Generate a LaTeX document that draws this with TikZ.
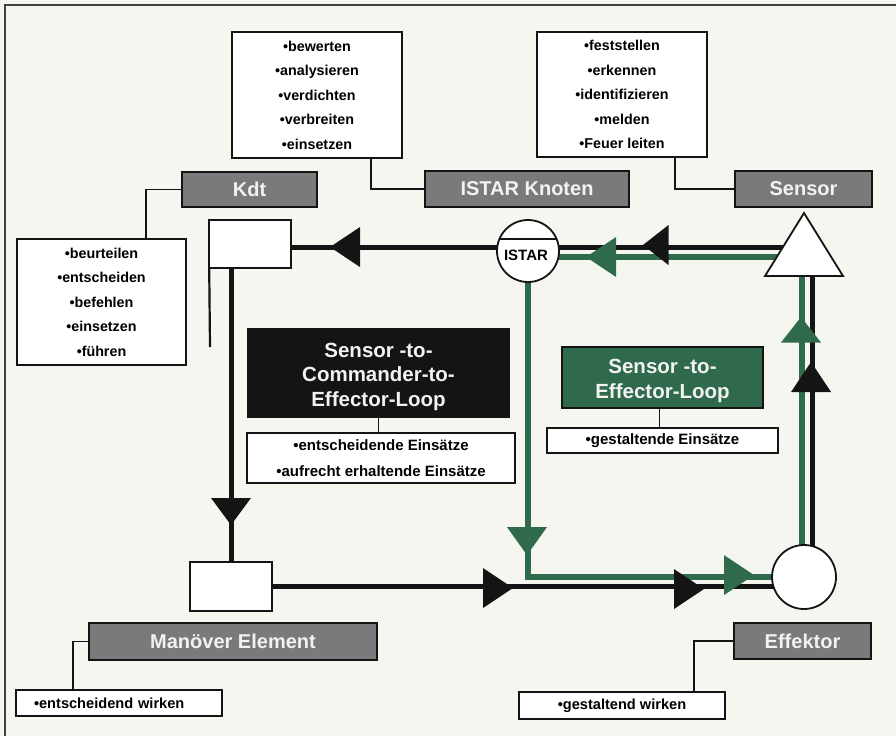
\documentclass[tikz,border=0pt]{standalone}
\usepackage{fontspec}
\setmainfont{Liberation Sans}
\usetikzlibrary{backgrounds}
\definecolor{paper}{HTML}{F6F6F1}
\definecolor{grayb}{HTML}{7A7A7A}
\definecolor{greenb}{HTML}{2F6A4C}
\definecolor{ink}{HTML}{141414}
\definecolor{labeltext}{HTML}{F2F2F2}
\begin{document}
\begin{tikzpicture}[x=1pt,y=-1pt,
  listbox/.style={draw=ink, line width=1.6pt, fill=white, inner sep=0pt, align=center,
    font=\bfseries\fontsize{14.3}{24.5}\selectfont},
  smallbox/.style={draw=ink, line width=1.6pt, fill=white, inner sep=0pt, align=center,
    font=\bfseries\fontsize{15}{26}\selectfont},
  graylabel/.style={draw=ink, line width=1.6pt, fill=grayb, text=labeltext, inner sep=0pt,
    font=\bfseries\fontsize{20}{24}\selectfont},
  loopbox/.style={draw=ink, line width=1.4pt, inner sep=0pt},
  looptext/.style={text=labeltext, inner sep=0pt, align=center,
    font=\bfseries\fontsize{20.5}{24.5}\selectfont},
  square/.style={draw=ink, line width=1.6pt, fill=white, inner sep=0pt},
  ring/.style={circle, draw=ink, line width=1.8pt, fill=white, inner sep=0pt},
  thinline/.style={draw=ink, line width=1.9pt},
  blackloop/.style={draw=ink, line width=5pt},
  greenloop/.style={draw=greenb, line width=5.5pt},
  arrowtip/.pic={\path[pic actions] (0,0) -- (-30,-20) -- (-30,20) -- cycle;}
]
\useasboundingbox (0,0) rectangle (896,736);
\begin{pgfonlayer}{background}
\fill[paper] (0,0) rectangle (896,736);
\end{pgfonlayer}
\draw[ink!80, line width=1.4pt] (5,736) -- (5,5) -- (896,5);

% lists
\node[listbox, minimum width=170pt, minimum height=126pt] (istarlist) at (317,95)
  {•bewerten\\•analysieren\\•verdichten\\•verbreiten\\•einsetzen};
\node[listbox, minimum width=170pt, minimum height=125pt] (senslist) at (622,94.5)
  {•feststellen\\•erkennen\\•identifizieren\\•melden\\•Feuer leiten};
\node[listbox, minimum width=169pt, minimum height=126pt] (kdtlist) at (101.5,302)
  {•beurteilen\\•entscheiden\\•befehlen\\•einsetzen\\•führen};

% gray labels
\node[graylabel, minimum width=135pt, minimum height=35pt] (kdt) at (249.5,189.5) {Kdt};
\node[graylabel, minimum width=204pt, minimum height=36pt] (istark) at (527,189) {ISTAR Knoten};
\node[graylabel, minimum width=137pt, minimum height=36pt] (sensor) at (803.5,189) {Sensor};
\node[graylabel, minimum width=288pt, minimum height=37pt] (manel) at (233,641.5) {Manöver Element};
\node[graylabel, minimum width=137pt, minimum height=36pt] (effektor) at (802.5,641) {Effektor};

% loop boxes
\node[loopbox, fill=ink, minimum width=261pt, minimum height=88pt,
  label={[looptext, yshift=-3.5pt]center:Sensor -to-\\Commander-to-\\Effector-Loop}] (blackbox) at (378.5,373) {};
\node[smallbox, minimum width=268pt, minimum height=50pt] (blacklist) at (381,458)
  {•entscheidende Einsätze\\•aufrecht erhaltende Einsätze};
\node[loopbox, fill=greenb, minimum width=201pt, minimum height=61pt,
  label={[looptext, yshift=-3.5pt]center:Sensor -to-\\Effector-Loop}] (greenbox) at (662.5,377.5) {};
\node[smallbox, minimum width=231pt, minimum height=25pt] (greenlist) at (662.5,440.5)
  {•gestaltende Einsätze};
\node[smallbox, font=\bfseries\fontsize{14.6}{24}\selectfont, minimum width=206pt, minimum height=26pt, text width=206pt, align=left] (manlist) at (119,703)
  {\hspace*{18pt}•entscheidend wirken};
\node[smallbox, font=\bfseries\fontsize{14.6}{24}\selectfont, minimum width=206pt, minimum height=27pt] (efflist) at (622,705.5)
  {•gestaltend wirken};

% squares and circles
\node[square, minimum width=82pt, minimum height=48pt] (cmdsq) at (250,244) {};
\node[square, minimum width=82pt, minimum height=49pt] (mansq) at (231,586.5) {};
\node[ring, minimum size=62pt] (istarc) at (528,251) {};
\draw[ink, line width=1.6pt] ([xshift=-28.6pt,yshift=12pt]istarc.center) -- ([xshift=28.6pt,yshift=12pt]istarc.center);
\node[font=\bfseries\fontsize{15}{18}\selectfont, inner sep=0pt] (istartext) at (526,255) {ISTAR};
\node[ring, minimum size=64pt] (effc) at (804,577) {};

% sensor triangle
\coordinate (tapex) at (804,213);
\coordinate (tleft) at (765,276);
\coordinate (tright) at (843,276);
\draw[ink, line width=1.8pt, fill=white, line join=miter] (tapex) -- (tright) -- (tleft) -- cycle;

\coordinate (tb) at (800,247);
\coordinate (tg) at (800,257);
\coordinate (rb) at (812,265);
\coordinate (rg) at (802,265);
\coordinate (strayend) at (210,347);

\begin{pgfonlayer}{background}
% thin connectors
\draw[thinline] ([xshift=54pt]istarlist.south) |- (istark.west);
\draw[thinline] ([xshift=53pt]senslist.south) |- (sensor.west);
\draw[thinline] (kdt.west) -| ([xshift=44.5pt]kdtlist.north);
\draw[thinline] (blackbox.south) -- (blackbox.south |- blacklist.north);
\draw[thinline] ([xshift=-3pt]greenbox.south) -- ([xshift=-3pt]greenbox.south |- greenlist.north);
\draw[thinline] (manel.west) -| ([xshift=-46pt]manlist.north);
\draw[thinline] (effektor.west) -| ([xshift=72pt]efflist.north);
\draw[thinline, line width=2.2pt] ([xshift=1pt]cmdsq.south west) -- (strayend);
% loops
\draw[blackloop] (tb) -- (tb -| cmdsq.east);
\draw[greenloop] (tg) -- (tg -| istarc.center);
\draw[greenloop] (istarc.center) |- (effc.center);
\draw[greenloop] (effc.center -| rg) -- (rg);
\draw[blackloop] (cmdsq.south -| mansq.north) -- (mansq.north);
\draw[blackloop] (mansq.east) -- (mansq.east -| effc.center);
\draw[blackloop] (effc.center -| rb) -- (rb);
\end{pgfonlayer}

% arrowheads
\pic[fill=ink, rotate=180] at (330,247) {arrowtip};
\pic[fill=ink, rotate=180, xscale=0.85] at (643,245) {arrowtip};
\pic[fill=greenb, rotate=180] at (586,257) {arrowtip};
\pic[fill=ink, rotate=-90, xscale=0.9] at (231,525) {arrowtip};
\pic[fill=greenb, rotate=-90, xscale=0.93] at (527,555) {arrowtip};
\pic[fill=ink] at (513,588) {arrowtip};
\pic[fill=ink] at (704,589) {arrowtip};
\pic[fill=greenb] at (754,575) {arrowtip};
\pic[fill=greenb, rotate=90, xscale=0.85] at (801,317) {arrowtip};
\pic[fill=ink, rotate=90] at (811,362) {arrowtip};
\end{tikzpicture}
\end{document}
